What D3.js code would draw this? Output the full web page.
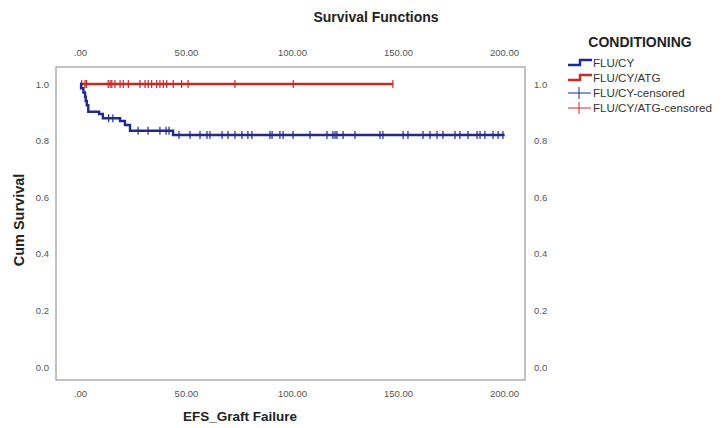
<!DOCTYPE html>
<html>
<head>
<meta charset="utf-8">
<script src="https://cdn.jsdelivr.net/npm/d3@7"></script>
<style>
  body { margin: 0; background: #fff; }
  text { font-family: "Liberation Sans", Arial, sans-serif; }
  .tick text { fill: #555; font-size: 9.5px; }
</style>
</head>
<body>
<svg width="726" height="428"></svg>
<script>
// x ticks / y ticks
const xTicks = [0, 50, 100, 150, 200];
const yTicks = [0, 0.2, 0.4, 0.6, 0.8, 1.0];

// FLU/CY Kaplan-Meier steps
const cyTimes = [0, 0.5, 1.6, 2.4, 2.7, 3.2, 3.9, 9.0, 10.8, 18.9, 21.2, 23.6, 43.9, 200.3];
const cySurv  = [1.0, 0.985, 0.970, 0.955, 0.940, 0.925, 0.902, 0.894, 0.879, 0.869, 0.855, 0.835, 0.820, 0.820];
const cyCensored = [13.5, 15.5, 27.4, 32.1, 37.7, 40.6, 42, 46.7, 51.9, 56.6, 59.9, 61.3, 67, 69.8, 73.1,
    76.4, 79.2, 81.1, 89.6, 90.6, 94.3, 95.8, 100.5, 108.5, 116.5, 119.3, 120.3, 121.2, 124.1,
    129.7, 141.5, 142.9, 152.4, 154.7, 161.8, 165.1, 168.4, 171.2, 176.9, 179.2, 183, 187.3,
    188.7, 191, 194.8, 197.2, 199.5];

// FLU/CY/ATG: no events
const atgTimes = [0, 147.6];
const atgSurv  = [1.0, 1.0];
const atgCensored = [0.8, 2.4, 3.1, 13.3, 14.2, 15, 16.5, 18.9, 20.4, 22.8, 28.3, 30.7, 32.2, 33.8,
    36.2, 37.7, 39.3, 40.9, 44, 47.9, 51, 73.1, 100.6, 147.6];

const legendNames = ["FLU/CY", "FLU/CY/ATG", "FLU/CY-censored", "FLU/CY/ATG-censored"];
const blue = "#1f2a8f";
const red = "#c42a26";

const svg = d3.select("svg");
const frame = { left: 56, right: 525, top: 67, bottom: 380 };

const x = d3.scaleLinear().domain([0, 200]).range([80, 504]);
const y = d3.scaleLinear().domain([0, 1]).range([367, 84]);

function fmtX(d) { return d === 0 ? ".00" : d3.format(".2f")(d); }

// frame
svg.append("rect")
    .attr("x", frame.left).attr("y", frame.top)
    .attr("width", frame.right - frame.left).attr("height", frame.bottom - frame.top)
    .attr("fill", "none").attr("stroke", "#9a9a9a").attr("stroke-width", 1.2);

// axes
const axBottom = svg.append("g")
    .attr("transform", "translate(0," + (frame.bottom + 7) + ")")
    .call(d3.axisBottom(x).tickValues(xTicks).tickFormat(fmtX).tickSize(0));
const axTop = svg.append("g")
    .attr("transform", "translate(0," + (frame.top - 8) + ")")
    .call(d3.axisTop(x).tickValues(xTicks).tickFormat(fmtX).tickSize(0));
const axLeft = svg.append("g")
    .attr("transform", "translate(" + (frame.left - 4) + ",0)")
    .call(d3.axisLeft(y).tickValues(yTicks).tickFormat(d3.format(".1f")).tickSize(0));
const axRight = svg.append("g")
    .attr("transform", "translate(" + (frame.right + 6) + ",0)")
    .call(d3.axisRight(y).tickValues(yTicks).tickFormat(d3.format(".1f")).tickSize(0));
[axBottom, axTop, axLeft, axRight].forEach(g => g.select(".domain").remove());

// step lines
const stepLine = d3.line()
    .x(d => x(d[0]))
    .y(d => y(d[1]))
    .curve(d3.curveStepAfter);

function survAt(times, surv, t) {
    let v = surv[0];
    for (let i = 0; i < times.length; i++) if (times[i] <= t) v = surv[i];
    return v;
}

function drawGroup(times, surv, censored, color) {
    svg.append("path")
        .datum(d3.zip(times, surv))
        .attr("d", stepLine)
        .attr("fill", "none")
        .attr("stroke", color)
        .attr("stroke-width", 2.4);
    svg.append("g").selectAll("line")
        .data(censored)
        .enter().append("line")
        .attr("x1", d => x(d)).attr("x2", d => x(d))
        .attr("y1", d => y(survAt(times, surv, d)) - 4)
        .attr("y2", d => y(survAt(times, surv, d)) + 4)
        .attr("stroke", color)
        .attr("stroke-width", 1.2);
}

drawGroup(atgTimes, atgSurv, atgCensored, red);
drawGroup(cyTimes, cySurv, cyCensored, blue);

// titles
svg.append("text")
    .attr("x", 376).attr("y", 22)
    .attr("text-anchor", "middle")
    .attr("font-size", "14px").attr("font-weight", "bold").attr("fill", "#222")
    .text("Survival Functions");

svg.append("text")
    .attr("x", 240).attr("y", 421)
    .attr("text-anchor", "middle")
    .attr("font-size", "13.5px").attr("font-weight", "bold").attr("fill", "#222")
    .text("EFS_Graft Failure");

svg.append("text")
    .attr("transform", "translate(24,220) rotate(-90)")
    .attr("text-anchor", "middle")
    .attr("font-size", "14.5px").attr("font-weight", "bold").attr("fill", "#222")
    .text("Cum Survival");

// legend
const legend = svg.append("g");
legend.append("text")
    .attr("x", 640).attr("y", 47)
    .attr("text-anchor", "middle")
    .attr("font-size", "14px").attr("font-weight", "bold").attr("fill", "#222")
    .text("CONDITIONING");

const legendY = [63, 78, 93, 108];
const legendColor = [blue, red, blue, red];
legendNames.forEach((name, i) => {
    const ly = legendY[i];
    if (i < 2) {
        legend.append("path")
            .attr("d", "M568," + (ly + 2) + "H580V" + (ly - 3) + "H592")
            .attr("fill", "none").attr("stroke", legendColor[i]).attr("stroke-width", 2.4);
    } else {
        legend.append("line")
            .attr("x1", 568).attr("x2", 591).attr("y1", ly).attr("y2", ly)
            .attr("stroke", legendColor[i]).attr("stroke-width", 1);
        legend.append("line")
            .attr("x1", 579).attr("x2", 579).attr("y1", ly - 6).attr("y2", ly + 6)
            .attr("stroke", legendColor[i]).attr("stroke-width", 1);
    }
    legend.append("text")
        .attr("x", 593).attr("y", ly + 4)
        .attr("font-size", "11.6px").attr("fill", "#333")
        .text(name);
});
</script>
</body>
</html>
